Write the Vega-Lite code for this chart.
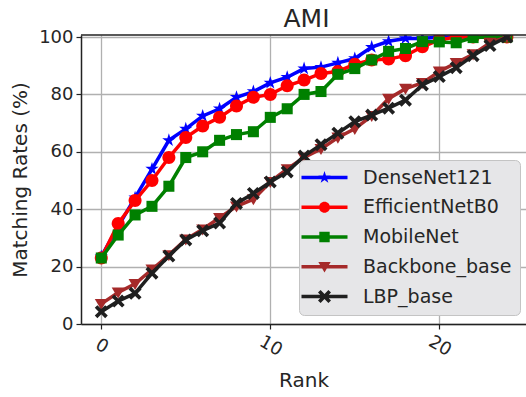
{
  "$schema": "https://vega.github.io/schema/vega-lite/v6.json",
  "width": 445,
  "height": 289,
  "autosize": {"type": "none"},
  "padding": {"left": 81, "top": 35, "right": 0, "bottom": 73},
  "background": "white",
  "title": {"text": "AMI", "frame": "group", "fontSize": 25, "font": "DejaVu Sans", "fontWeight": "normal", "color": "#262626", "offset": -4, "dx": 3},
  "config": {
    "view": {"stroke": null},
    "font": "DejaVu Sans",
    "axis": {
      "domainColor": "#222222", "domainWidth": 1.5,
      "tickColor": "#222222", "tickSize": 5, "tickWidth": 1.2,
      "labelFont": "DejaVu Sans", "labelFontSize": 18, "labelColor": "#262626",
      "titleFont": "DejaVu Sans", "titleFontSize": 20, "titleFontWeight": "normal", "titleColor": "#262626",
      "grid": true, "gridColor": "#b0b0b0", "gridWidth": 1.3
    }
  },
  "data": {"values": [
    {"model": "DenseNet121", "rank": 0, "rate": 23.5}, {"model": "DenseNet121", "rank": 1, "rate": 34}, {"model": "DenseNet121", "rank": 2, "rate": 44}, {"model": "DenseNet121", "rank": 3, "rate": 54}, {"model": "DenseNet121", "rank": 4, "rate": 64},
    {"model": "DenseNet121", "rank": 5, "rate": 68}, {"model": "DenseNet121", "rank": 6, "rate": 72.5}, {"model": "DenseNet121", "rank": 7, "rate": 75}, {"model": "DenseNet121", "rank": 8, "rate": 79}, {"model": "DenseNet121", "rank": 9, "rate": 81},
    {"model": "DenseNet121", "rank": 10, "rate": 84}, {"model": "DenseNet121", "rank": 11, "rate": 86}, {"model": "DenseNet121", "rank": 12, "rate": 89}, {"model": "DenseNet121", "rank": 13, "rate": 89.5}, {"model": "DenseNet121", "rank": 14, "rate": 91},
    {"model": "DenseNet121", "rank": 15, "rate": 92.5}, {"model": "DenseNet121", "rank": 16, "rate": 96.5}, {"model": "DenseNet121", "rank": 17, "rate": 98.5}, {"model": "DenseNet121", "rank": 18, "rate": 99.5}, {"model": "DenseNet121", "rank": 19, "rate": 99.5},
    {"model": "DenseNet121", "rank": 20, "rate": 100}, {"model": "DenseNet121", "rank": 21, "rate": 100}, {"model": "DenseNet121", "rank": 22, "rate": 100}, {"model": "DenseNet121", "rank": 23, "rate": 100}, {"model": "DenseNet121", "rank": 24, "rate": 100},

    {"model": "EfficientNetB0", "rank": 0, "rate": 23}, {"model": "EfficientNetB0", "rank": 1, "rate": 35}, {"model": "EfficientNetB0", "rank": 2, "rate": 43}, {"model": "EfficientNetB0", "rank": 3, "rate": 50}, {"model": "EfficientNetB0", "rank": 4, "rate": 58},
    {"model": "EfficientNetB0", "rank": 5, "rate": 65}, {"model": "EfficientNetB0", "rank": 6, "rate": 69}, {"model": "EfficientNetB0", "rank": 7, "rate": 72}, {"model": "EfficientNetB0", "rank": 8, "rate": 76}, {"model": "EfficientNetB0", "rank": 9, "rate": 79},
    {"model": "EfficientNetB0", "rank": 10, "rate": 80}, {"model": "EfficientNetB0", "rank": 11, "rate": 83}, {"model": "EfficientNetB0", "rank": 12, "rate": 85}, {"model": "EfficientNetB0", "rank": 13, "rate": 87.3}, {"model": "EfficientNetB0", "rank": 14, "rate": 88},
    {"model": "EfficientNetB0", "rank": 15, "rate": 90.5}, {"model": "EfficientNetB0", "rank": 16, "rate": 92}, {"model": "EfficientNetB0", "rank": 17, "rate": 92.3}, {"model": "EfficientNetB0", "rank": 18, "rate": 93.5}, {"model": "EfficientNetB0", "rank": 19, "rate": 96.6},
    {"model": "EfficientNetB0", "rank": 20, "rate": 99}, {"model": "EfficientNetB0", "rank": 21, "rate": 100}, {"model": "EfficientNetB0", "rank": 22, "rate": 100}, {"model": "EfficientNetB0", "rank": 23, "rate": 100}, {"model": "EfficientNetB0", "rank": 24, "rate": 100},

    {"model": "MobileNet", "rank": 0, "rate": 23}, {"model": "MobileNet", "rank": 1, "rate": 31}, {"model": "MobileNet", "rank": 2, "rate": 38}, {"model": "MobileNet", "rank": 3, "rate": 41}, {"model": "MobileNet", "rank": 4, "rate": 48},
    {"model": "MobileNet", "rank": 5, "rate": 58}, {"model": "MobileNet", "rank": 6, "rate": 60}, {"model": "MobileNet", "rank": 7, "rate": 64}, {"model": "MobileNet", "rank": 8, "rate": 66}, {"model": "MobileNet", "rank": 9, "rate": 67},
    {"model": "MobileNet", "rank": 10, "rate": 72}, {"model": "MobileNet", "rank": 11, "rate": 75}, {"model": "MobileNet", "rank": 12, "rate": 80}, {"model": "MobileNet", "rank": 13, "rate": 81}, {"model": "MobileNet", "rank": 14, "rate": 87},
    {"model": "MobileNet", "rank": 15, "rate": 89}, {"model": "MobileNet", "rank": 16, "rate": 92}, {"model": "MobileNet", "rank": 17, "rate": 95}, {"model": "MobileNet", "rank": 18, "rate": 96}, {"model": "MobileNet", "rank": 19, "rate": 98.4},
    {"model": "MobileNet", "rank": 20, "rate": 98.3}, {"model": "MobileNet", "rank": 21, "rate": 98}, {"model": "MobileNet", "rank": 22, "rate": 99.8}, {"model": "MobileNet", "rank": 23, "rate": 100}, {"model": "MobileNet", "rank": 24, "rate": 100},

    {"model": "Backbone_base", "rank": 0, "rate": 7}, {"model": "Backbone_base", "rank": 1, "rate": 11}, {"model": "Backbone_base", "rank": 2, "rate": 14}, {"model": "Backbone_base", "rank": 3, "rate": 19}, {"model": "Backbone_base", "rank": 4, "rate": 24},
    {"model": "Backbone_base", "rank": 5, "rate": 29.5}, {"model": "Backbone_base", "rank": 6, "rate": 33}, {"model": "Backbone_base", "rank": 7, "rate": 37}, {"model": "Backbone_base", "rank": 8, "rate": 41}, {"model": "Backbone_base", "rank": 9, "rate": 43.5},
    {"model": "Backbone_base", "rank": 10, "rate": 49.5}, {"model": "Backbone_base", "rank": 11, "rate": 54}, {"model": "Backbone_base", "rank": 12, "rate": 58}, {"model": "Backbone_base", "rank": 13, "rate": 61}, {"model": "Backbone_base", "rank": 14, "rate": 65},
    {"model": "Backbone_base", "rank": 15, "rate": 68}, {"model": "Backbone_base", "rank": 16, "rate": 72.5}, {"model": "Backbone_base", "rank": 17, "rate": 78.5}, {"model": "Backbone_base", "rank": 18, "rate": 82}, {"model": "Backbone_base", "rank": 19, "rate": 84},
    {"model": "Backbone_base", "rank": 20, "rate": 88}, {"model": "Backbone_base", "rank": 21, "rate": 91}, {"model": "Backbone_base", "rank": 22, "rate": 94}, {"model": "Backbone_base", "rank": 23, "rate": 98}, {"model": "Backbone_base", "rank": 24, "rate": 100},

    {"model": "LBP_base", "rank": 0, "rate": 4.3}, {"model": "LBP_base", "rank": 1, "rate": 8}, {"model": "LBP_base", "rank": 2, "rate": 10.7}, {"model": "LBP_base", "rank": 3, "rate": 17.7}, {"model": "LBP_base", "rank": 4, "rate": 23.7},
    {"model": "LBP_base", "rank": 5, "rate": 29.3}, {"model": "LBP_base", "rank": 6, "rate": 32.5}, {"model": "LBP_base", "rank": 7, "rate": 35.2}, {"model": "LBP_base", "rank": 8, "rate": 42}, {"model": "LBP_base", "rank": 9, "rate": 45.5},
    {"model": "LBP_base", "rank": 10, "rate": 49.5}, {"model": "LBP_base", "rank": 11, "rate": 53}, {"model": "LBP_base", "rank": 12, "rate": 58.5}, {"model": "LBP_base", "rank": 13, "rate": 62.5}, {"model": "LBP_base", "rank": 14, "rate": 66.5},
    {"model": "LBP_base", "rank": 15, "rate": 70.5}, {"model": "LBP_base", "rank": 16, "rate": 72.8}, {"model": "LBP_base", "rank": 17, "rate": 75.2}, {"model": "LBP_base", "rank": 18, "rate": 78}, {"model": "LBP_base", "rank": 19, "rate": 83.3},
    {"model": "LBP_base", "rank": 20, "rate": 86.2}, {"model": "LBP_base", "rank": 21, "rate": 89.3}, {"model": "LBP_base", "rank": 22, "rate": 93.5}, {"model": "LBP_base", "rank": 23, "rate": 97}, {"model": "LBP_base", "rank": 24, "rate": 100}
  ]},
  "layer": [
    {
      "transform": [{"filter": "datum.model === 'DenseNet121'"}],
      "mark": {"type": "line", "color": "#0000ff", "strokeWidth": 3.5, "clip": true,
        "point": {"filled": true, "opacity": 1, "color": "#0000ff", "size": 196, "clip": true,
          "shape": "M0,-1L0.225,-0.309L0.951,-0.309L0.363,0.118L0.588,0.809L0,0.382L-0.588,0.809L-0.363,0.118L-0.951,-0.309L-0.225,-0.309Z"}},
      "encoding": {
        "x": {"field": "rank", "type": "quantitative", "title": "Rank", "scale": {"domain": [-1.2, 25.13], "nice": false, "zero": false},
          "axis": {"values": [0, 10, 20], "labelAngle": 30, "labelAlign": "center", "labelBaseline": "middle", "labelPadding": 17, "titlePadding": 11}},
        "y": {"field": "rate", "type": "quantitative", "title": "Matching Rates (%)", "scale": {"domain": [0, 100.7], "nice": false},
          "axis": {"values": [0, 20, 40, 60, 80, 100], "labelPadding": 3, "titlePadding": 8}}
      }
    },
    {
      "transform": [{"filter": "datum.model === 'EfficientNetB0'"}],
      "mark": {"type": "line", "color": "#ff0000", "strokeWidth": 3.5, "clip": true,
        "point": {"filled": true, "opacity": 1, "color": "#ff0000", "size": 169, "clip": true,
          "shape": "M1,0A1,1,0,1,1,-1,0A1,1,0,1,1,1,0Z"}},
      "encoding": {
        "x": {"field": "rank", "type": "quantitative", "title": "Rank", "scale": {"domain": [-1.2, 25.13], "nice": false, "zero": false},
          "axis": {"values": [0, 10, 20], "labelAngle": 30, "labelAlign": "center", "labelBaseline": "middle", "labelPadding": 17, "titlePadding": 11}},
        "y": {"field": "rate", "type": "quantitative", "title": "Matching Rates (%)", "scale": {"domain": [0, 100.7], "nice": false},
          "axis": {"values": [0, 20, 40, 60, 80, 100], "labelPadding": 3, "titlePadding": 8}}
      }
    },
    {
      "transform": [{"filter": "datum.model === 'MobileNet'"}],
      "mark": {"type": "line", "color": "#008000", "strokeWidth": 3.5, "clip": true,
        "point": {"filled": true, "opacity": 1, "color": "#008000", "size": 169, "clip": true,
          "shape": "M-0.85,-0.85H0.85V0.85H-0.85Z"}},
      "encoding": {
        "x": {"field": "rank", "type": "quantitative", "title": "Rank", "scale": {"domain": [-1.2, 25.13], "nice": false, "zero": false},
          "axis": {"values": [0, 10, 20], "labelAngle": 30, "labelAlign": "center", "labelBaseline": "middle", "labelPadding": 17, "titlePadding": 11}},
        "y": {"field": "rate", "type": "quantitative", "title": "Matching Rates (%)", "scale": {"domain": [0, 100.7], "nice": false},
          "axis": {"values": [0, 20, 40, 60, 80, 100], "labelPadding": 3, "titlePadding": 8}}
      }
    },
    {
      "transform": [{"filter": "datum.model === 'Backbone_base'"}],
      "mark": {"type": "line", "color": "#a52a2a", "strokeWidth": 3.5, "clip": true,
        "point": {"filled": true, "opacity": 1, "color": "#a52a2a", "size": 169, "clip": true,
          "shape": "M-1,-0.75H1L0,0.95Z"}},
      "encoding": {
        "x": {"field": "rank", "type": "quantitative", "title": "Rank", "scale": {"domain": [-1.2, 25.13], "nice": false, "zero": false},
          "axis": {"values": [0, 10, 20], "labelAngle": 30, "labelAlign": "center", "labelBaseline": "middle", "labelPadding": 17, "titlePadding": 11}},
        "y": {"field": "rate", "type": "quantitative", "title": "Matching Rates (%)", "scale": {"domain": [0, 100.7], "nice": false},
          "axis": {"values": [0, 20, 40, 60, 80, 100], "labelPadding": 3, "titlePadding": 8}}
      }
    },
    {
      "transform": [{"filter": "datum.model === 'LBP_base'"}],
      "mark": {"type": "line", "color": "#1f1f1f", "strokeWidth": 3.5, "clip": true,
        "point": {"filled": true, "opacity": 1, "color": "#1f1f1f", "size": 169, "clip": true,
          "shape": "M-0.6,-1L0,-0.4L0.6,-1L1,-0.6L0.4,0L1,0.6L0.6,1L0,0.4L-0.6,1L-1,0.6L-0.4,0L-1,-0.6Z"}},
      "encoding": {
        "x": {"field": "rank", "type": "quantitative", "title": "Rank", "scale": {"domain": [-1.2, 25.13], "nice": false, "zero": false},
          "axis": {"values": [0, 10, 20], "labelAngle": 30, "labelAlign": "center", "labelBaseline": "middle", "labelPadding": 17, "titlePadding": 11}},
        "y": {"field": "rate", "type": "quantitative", "title": "Matching Rates (%)", "scale": {"domain": [0, 100.7], "nice": false},
          "axis": {"values": [0, 20, 40, 60, 80, 100], "labelPadding": 3, "titlePadding": 8}}
      }
    },
    {
      "transform": [{"filter": "false"}],
      "mark": {"type": "point", "filled": true, "opacity": 1, "size": 169},
      "encoding": {
        "color": {"field": "model", "type": "nominal",
          "scale": {"domain": ["DenseNet121", "EfficientNetB0", "MobileNet", "Backbone_base", "LBP_base"],
                    "range": ["#0000ff", "#ff0000", "#008000", "#a52a2a", "#1f1f1f"]},
          "legend": {"orient": "none", "legendX": 218, "legendY": 125, "title": null, "symbolSize": 169, "symbolStrokeWidth": 0, "symbolOpacity": 1,
            "symbolOffset": 8, "labelOffset": 29, "labelFont": "DejaVu Sans", "labelFontSize": 19, "labelColor": "#262626", "labelLimit": 300,
            "rowPadding": 9.75, "padding": 8, "fillColor": "#e6e6e8", "strokeColor": "#c4c4c4", "cornerRadius": 5}},
        "shape": {"field": "model", "type": "nominal",
          "scale": {"domain": ["DenseNet121", "EfficientNetB0", "MobileNet", "Backbone_base", "LBP_base"],
                    "range": [
                      "M-3.54,-0.27H3.54V0.27H-3.54Z M0,-1L0.225,-0.309L0.951,-0.309L0.363,0.118L0.588,0.809L0,0.382L-0.588,0.809L-0.363,0.118L-0.951,-0.309L-0.225,-0.309Z",
                      "M-3.54,-0.27H3.54V0.27H-3.54Z M0.85,0A0.85,0.85,0,1,1,-0.85,0A0.85,0.85,0,1,1,0.85,0Z",
                      "M-3.54,-0.27H3.54V0.27H-3.54Z M-0.8,-0.8H0.8V0.8H-0.8Z",
                      "M-3.54,-0.27H3.54V0.27H-3.54Z M-0.95,-0.75H0.95L0,0.9Z",
                      "M-3.54,-0.27H3.54V0.27H-3.54Z M-0.6,-1L0,-0.4L0.6,-1L1,-0.6L0.4,0L1,0.6L0.6,1L0,0.4L-0.6,1L-1,0.6L-0.4,0L-1,-0.6Z"
                    ]},
          "legend": {"orient": "none", "legendX": 218, "legendY": 125, "title": null, "symbolSize": 169, "symbolStrokeWidth": 0, "symbolOpacity": 1,
            "symbolOffset": 8, "labelOffset": 29, "labelFont": "DejaVu Sans", "labelFontSize": 19, "labelColor": "#262626", "labelLimit": 300,
            "rowPadding": 9.75, "padding": 8, "fillColor": "#e6e6e8", "strokeColor": "#c4c4c4", "cornerRadius": 5}}
      }
    },
    {
      "data": {"values": [{"edge": "top"}]},
      "mark": {"type": "rule", "color": "#222222", "strokeWidth": 1.5},
      "encoding": {"y": {"datum": 100.7}}
    }
  ]
}
